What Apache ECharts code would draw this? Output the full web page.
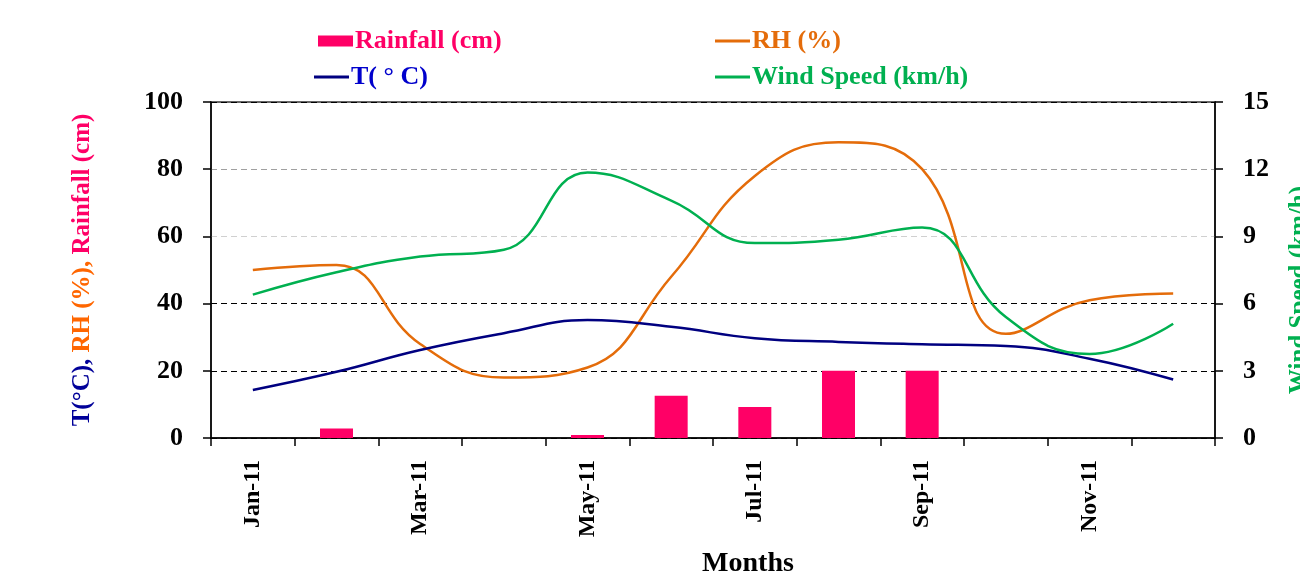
<!DOCTYPE html>
<html>
<head>
<meta charset="utf-8">
<script src="https://cdn.jsdelivr.net/npm/echarts@6/dist/echarts.min.js"></script>
<style>html,body{margin:0;padding:0;background:#fff}#c{width:1300px;height:576px}</style>
</head>
<body>
<div id="c"></div>
<script>
const months = ['Jan-11','Feb-11','Mar-11','Apr-11','May-11','Jun-11','Jul-11','Aug-11','Sep-11','Oct-11','Nov-11','Dec-11'];
const rainfall = [0, 2.8, 0, 0, 0.9, 12.6, 9.2, 20, 20, 0, 0, 0];
const rh = [50, 51.5, 28, 18, 21, 48, 78, 88, 80, 31, 41, 43];
const temp = [14.3, 19.7, 26.2, 31.2, 35.1, 33.1, 29.7, 28.6, 27.9, 27.4, 23.6, 17.4];
const wind = [6.4, 7.4, 8.1, 8.4, 11.85, 10.6, 8.7, 8.85, 9.4, 5.4, 3.75, 5.1];
const leftTicks = [0, 20, 40, 60, 80, 100];
const rightTicks = [0, 3, 6, 9, 12, 15];

const FONT = '"Liberation Serif", "DejaVu Serif", serif';
const C_RAIN = '#FF0066', C_RH = '#E46C0A', C_T = '#000080', C_TTXT = '#0000CC', C_WIND = '#00B050';

const chart = echarts.init(document.getElementById('c'));
function lg(name, left, top, icon, color, txtColor, h) {
  return {
    data: [{name: name, icon: icon}], left: left, top: top,
    itemWidth: 35, itemHeight: h, itemGap: 0, padding: 0,
    textStyle: {fontFamily: FONT, fontWeight: 'bold', fontSize: 26, color: txtColor, padding: [0,0,0,-3]}
  };
}
chart.setOption({
  animation: false,
  legend: [
    lg('Rainfall (cm)', 318, 28, 'rect', C_RAIN, C_RAIN, 11),
    lg('RH (%)', 715, 28, 'rect', C_RH, C_RH, 3),
    lg('T( ° C)', 314, 64, 'rect', C_T, C_TTXT, 3),
    lg('Wind Speed (km/h)', 715, 64, 'rect', C_WIND, C_WIND, 3)
  ],
  grid: {left: 211, right: 85, top: 102, bottom: 138, outerBoundsMode: 'none', containLabel: false,
    show: true, borderColor: '#333', borderWidth: 1.5, backgroundColor: 'transparent'},
  xAxis: {
    type: 'category', data: months, boundaryGap: true,
    axisLine: {lineStyle: {color: '#000', width: 1.5}},
    axisTick: {show: true, interval: 0, length: 8, lineStyle: {color: '#000', width: 1.5}},
    axisLabel: {interval: 1, rotate: 90, margin: 22, fontFamily: FONT, fontWeight: 'bold', fontSize: 24, color: '#000'},
    name: 'Months', nameLocation: 'middle', nameGap: 112,
    nameTextStyle: {fontFamily: FONT, fontWeight: 'bold', fontSize: 28, color: '#000', padding: [0,0,0,70]}
  },
  yAxis: [
    {
      type: 'value', min: 0, max: 100, interval: 20,
      axisLine: {show: true, lineStyle: {color: '#000', width: 1.5}},
      axisTick: {show: true, length: 8, lineStyle: {color: '#000', width: 1.5}},
      axisLabel: {margin: 28, fontFamily: FONT, fontWeight: 'bold', fontSize: 26, color: '#000',
        formatter: v => leftTicks.includes(v) ? String(v) : ''},
      splitLine: {show: true, lineStyle: {type: [6, 4], width: 1.2, color: ['#000', '#000', '#000', '#d0d0d0', '#a0a0a0', '#000']}},
      name: '{t|T(°C),} {r|RH (%),} {f|Rainfall (cm)}',
      nameLocation: 'middle', nameRotate: 90, nameGap: 116,
      nameTextStyle: {fontFamily: FONT, fontWeight: 'bold', fontSize: 25,
        rich: {
          t: {fontFamily: FONT, fontWeight: 'bold', fontSize: 25, color: '#000099'},
          r: {fontFamily: FONT, fontWeight: 'bold', fontSize: 25, color: '#FF6600'},
          f: {fontFamily: FONT, fontWeight: 'bold', fontSize: 25, color: C_RAIN}
        }}
    },
    {
      type: 'value', min: 0, max: 15, interval: 3, position: 'right',
      axisLine: {show: true, lineStyle: {color: '#000', width: 1.5}},
      axisTick: {show: true, length: 8, lineStyle: {color: '#000', width: 1.5}},
      axisLabel: {margin: 28, fontFamily: FONT, fontWeight: 'bold', fontSize: 26, color: '#000',
        formatter: v => rightTicks.includes(v) ? String(v) : ''},
      splitLine: {show: false},
      name: 'Wind Speed (km/h)', nameLocation: 'middle', nameRotate: 90, nameGap: 72,
      nameTextStyle: {fontFamily: FONT, fontWeight: 'bold', fontSize: 25, color: C_WIND, padding: [0, 40, 0, 0]}
    }
  ],
  series: [
    {name: 'Rainfall (cm)', type: 'bar', data: rainfall, yAxisIndex: 0, barWidth: 33, itemStyle: {color: C_RAIN}, z: 1},
    {name: 'RH (%)', type: 'line', data: rh, yAxisIndex: 0, smooth: 0.45, showSymbol: false, lineStyle: {color: C_RH, width: 2.5}, itemStyle: {color: C_RH}, z: 3},
    {name: 'T( ° C)', type: 'line', data: temp, yAxisIndex: 0, smooth: 0.45, showSymbol: false, lineStyle: {color: C_T, width: 2.5}, itemStyle: {color: C_T}, z: 3},
    {name: 'Wind Speed (km/h)', type: 'line', data: wind, yAxisIndex: 1, smooth: 0.45, showSymbol: false, lineStyle: {color: C_WIND, width: 2.5}, itemStyle: {color: C_WIND}, z: 3}
  ]
});
</script>
</body>
</html>
